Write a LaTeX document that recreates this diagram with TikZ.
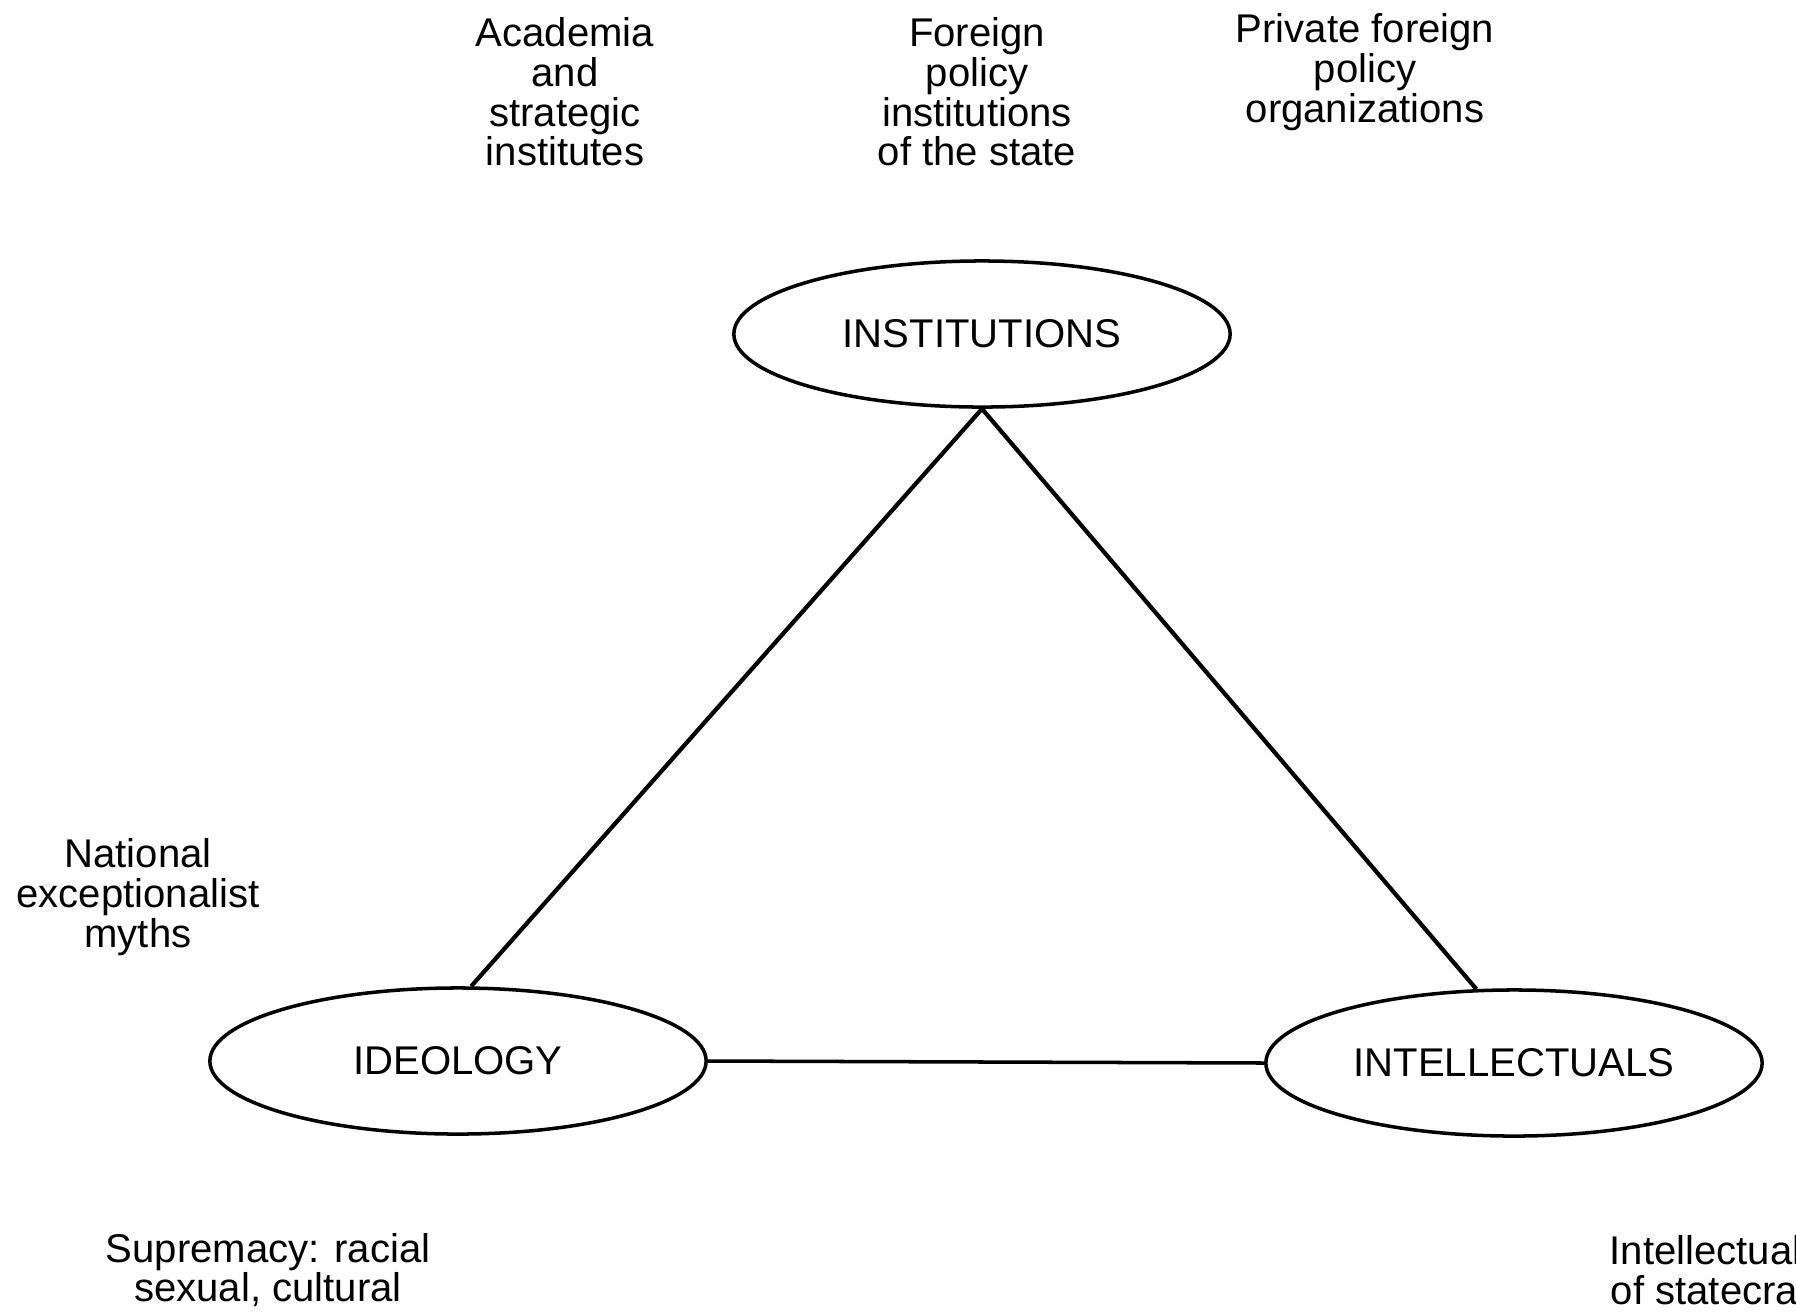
\documentclass[tikz,border=0pt]{standalone}
\usepackage{fontspec}
\setmainfont{Liberation Sans}
\usetikzlibrary{shapes.geometric,positioning}

\begin{document}
\begin{tikzpicture}[x=0.01cm,y=-0.01cm,
    hub/.style={draw,line width=1pt,ellipse,inner sep=0pt,minimum width=4.96cm,minimum height=1.46cm},
    note/.style={align=center,inner sep=0pt},
    every node/.append style={font=\fontsize{11.4}{11.3}\selectfont}]
                \useasboundingbox (0,0) rectangle (1796,1311);
                \clip (0,0) rectangle (1796,1311);
                % the three corners
                \node[hub] at (982,334)(inst){INSTITUTIONS};
                \node[hub] at (458,1061)(ideo){IDEOLOGY};
                \node[hub] at (1514,1063)(intel){INTELLECTUALS};
                \draw[line width=1.2pt](inst.south)--(ideo.80);
                \draw[line width=1.2pt](inst.south)--(intel.117);
                \draw[line width=1pt](ideo.east)--(intel.west);
                % notes round the triangle
                \node[note] at (565,92)(acad){Academia\\and\\strategic\\institutes};
                \node[note] at (977,92)(state){Foreign\\policy\\institutions\\of the state};
                \node[note] at (1365,72)(priv){Private foreign\\policy\\organizations};
                \node[note] at (138,897)(myth){National\\exceptionalist\\myths};
                \node[note] at (268,1270)(supr){Supremacy: racial\\sexual, cultural};
                \node[note,anchor=west] at (1609,1270)(craft){Intellectuals\\of statecraft};
            \end{tikzpicture}
\end{document}
